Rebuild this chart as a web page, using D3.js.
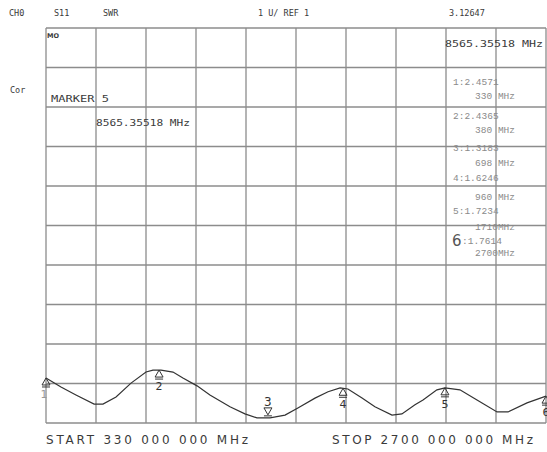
<!DOCTYPE html>
<html>
<head>
<meta charset="utf-8">
<script src="https://cdn.jsdelivr.net/npm/d3@7"></script>
<style>
  body { margin: 0; background: #fff; }
  svg { display: block; }
</style>
</head>
<body>
<svg id="chart"></svg>
<script>
// trace: frequency (MHz) and SWR
const freqs = [330, 401, 472, 558, 600, 662, 733, 804, 837, 875, 932, 979, 1046, 1107, 1202, 1273, 1330, 1392,
               1463, 1524, 1605, 1667, 1724, 1761, 1828, 1889, 1970, 2017, 2079, 2117, 2183, 2221, 2292, 2373,
               2468, 2520, 2610, 2700];
const swr = [2.14, 1.91, 1.71, 1.48, 1.48, 1.66, 2.01, 2.29, 2.34, 2.34, 2.29, 2.14, 1.94, 1.71, 1.41, 1.23, 1.13, 1.13,
             1.20, 1.38, 1.63, 1.79, 1.89, 1.86, 1.63, 1.41, 1.20, 1.23, 1.46, 1.58, 1.84, 1.89, 1.84, 1.58,
             1.28, 1.28, 1.51, 1.68];

// markers as they sit on the trace
const markerNums = ["1", "2", "3", "4", "5", "6"];
const markerFreqs = [330, 866, 1382, 1738, 2221, 2700];
const markerDown = [false, false, true, false, false, false];

// readout column on the right
const readoutValues = ["1:2.4571", "2:2.4365", "3:1.3183", "4:1.6246", "5:1.7234", "6:1.7614"];
const readoutFreqs = ["330 MHz", "380 MHz", "698 MHz", "960 MHz", "1710MHz", "2700MHz"];

const headerTexts = ["CH0", "S11", "SWR", "1 U/ REF 1", "3.12647"];
const startLabel = "START 330 000 000 MHz";
const stopLabel = "STOP 2700 000 000 MHz";
const markerTitle = "MARKER 5";
const markerFreqText = "8565.35518 MHz";

const W = 547, H = 452;
const svg = d3.select("#chart").attr("width", W).attr("height", H);

const gLeft = 46, gRight = 546, gTop = 28, gBottom = 423;
const x = d3.scaleLinear().domain([330, 2700]).range([gLeft, gRight]);
const y = d3.scaleLinear().domain([1, 11]).range([gBottom, gTop]);

const gridCol = "#8c8c8c";
const textCol = "#3a3a3a";

// grid
const xTicks = d3.range(11).map(i => 330 + i * 237);
const yTicks = y.ticks(10);
svg.append("g").selectAll("line").data(xTicks).join("line")
    .attr("x1", d => x(d)).attr("x2", d => x(d))
    .attr("y1", gTop).attr("y2", gBottom)
    .attr("stroke", gridCol).attr("stroke-width", 1.3);
svg.append("g").selectAll("line").data(yTicks).join("line")
    .attr("x1", gLeft).attr("x2", gRight)
    .attr("y1", d => y(d)).attr("y2", d => y(d))
    .attr("stroke", gridCol).attr("stroke-width", 1.3);

// header
const headerX = [9, 54, 103, 258, 449];
svg.append("g").selectAll("text").data(headerTexts).join("text")
    .attr("x", (d, i) => headerX[i]).attr("y", 16)
    .attr("font-family", "DejaVu Sans Mono").attr("font-size", 8.5)
    .attr("fill", textCol)
    .text(d => d);

svg.append("text").attr("x", 47).attr("y", 38)
    .attr("font-family", "DejaVu Sans").attr("font-size", 6.5).attr("font-weight", "bold")
    .attr("fill", textCol).text("MO");
svg.append("text").attr("x", 445).attr("y", 47)
    .attr("font-family", "DejaVu Sans Mono").attr("font-size", 8.5)
    .attr("textLength", 98).attr("lengthAdjust", "spacingAndGlyphs")
    .attr("fill", textCol).text(markerFreqText);

svg.append("text").attr("x", 10).attr("y", 93)
    .attr("font-family", "DejaVu Sans Mono").attr("font-size", 8.5)
    .attr("fill", textCol).text("Cor");
svg.append("text").attr("x", 51).attr("y", 102)
    .attr("font-family", "DejaVu Sans Mono").attr("font-size", 8.5)
    .attr("textLength", 58).attr("lengthAdjust", "spacingAndGlyphs")
    .attr("fill", textCol).text(markerTitle);
svg.append("text").attr("x", 96).attr("y", 126)
    .attr("font-family", "DejaVu Sans Mono").attr("font-size", 8.5)
    .attr("textLength", 94).attr("lengthAdjust", "spacingAndGlyphs")
    .attr("fill", textCol).text(markerFreqText);

// readouts
const valY = [85, 119, 151, 181, 214, 244];
const frqY = [99, 133, 166, 200, 230, 256];
const ro = svg.append("g").attr("font-family", "Liberation Mono").attr("font-size", 9.5).attr("fill", "#8a8a8a");
ro.selectAll("text.v").data(readoutValues.slice(0, 5)).join("text")
    .attr("class", "v").attr("x", 453).attr("y", (d, i) => valY[i]).text(d => d);
ro.selectAll("text.f").data(readoutFreqs).join("text")
    .attr("class", "f").attr("x", 515).attr("y", (d, i) => frqY[i])
    .attr("text-anchor", "end").text(d => d);
const last = readoutValues[5];
svg.append("text").attr("x", 452).attr("y", 246)
    .attr("font-family", "DejaVu Sans").attr("font-size", 15).attr("fill", "#555")
    .text(last.slice(0, 1));
ro.append("text").attr("x", 462).attr("y", 244).text(last.slice(1));

// trace
const pts = freqs.map((f, i) => [f, swr[i]]);
svg.append("path").datum(pts)
    .attr("d", d3.line().x(d => x(d[0])).y(d => y(d[1])))
    .attr("fill", "none").attr("stroke", "#333").attr("stroke-width", 1.2);

// markers
const valAt = f => {
    const i = d3.bisectLeft(freqs, f);
    if (i <= 0) return swr[0];
    if (i >= freqs.length) return swr[swr.length - 1];
    const t = (f - freqs[i - 1]) / (freqs[i] - freqs[i - 1]);
    return swr[i - 1] + t * (swr[i] - swr[i - 1]);
};
const mk = svg.append("g");
markerNums.forEach((n, i) => {
    const mx = x(markerFreqs[i]);
    const my = y(valAt(markerFreqs[i]));
    if (markerDown[i]) {
        mk.append("path")
            .attr("d", `M${mx - 4},${my - 10}L${mx + 4},${my - 10}L${mx},${my - 3}Z`)
            .attr("fill", "none").attr("stroke", "#333").attr("stroke-width", 1);
        mk.append("line").attr("x1", mx - 4).attr("x2", mx + 4)
            .attr("y1", my - 2).attr("y2", my - 2).attr("stroke", "#333");
        mk.append("text").attr("x", mx).attr("y", my - 12).attr("text-anchor", "middle")
            .attr("font-family", "DejaVu Sans").attr("font-size", 12).attr("fill", "#333").text(n);
    } else {
        mk.append("path")
            .attr("d", `M${mx},${my}L${mx + 4},${my + 7}L${mx - 4},${my + 7}Z`)
            .attr("fill", "none").attr("stroke", "#333").attr("stroke-width", 1);
        mk.append("line").attr("x1", mx - 4).attr("x2", mx + 4)
            .attr("y1", my + 9).attr("y2", my + 9).attr("stroke", "#333");
        mk.append("text").attr("x", i === 0 ? mx - 2 : mx).attr("y", my + 20).attr("text-anchor", "middle")
            .attr("font-family", "DejaVu Sans").attr("font-size", 11)
            .attr("fill", i === 0 ? "#999" : "#333").text(n);
    }
});

// start / stop
svg.append("text").attr("x", 46).attr("y", 444)
    .attr("font-family", "DejaVu Sans").attr("font-size", 12)
    .attr("textLength", 202).attr("lengthAdjust", "spacing")
    .attr("fill", textCol).text(startLabel);
svg.append("text").attr("x", 332).attr("y", 444)
    .attr("font-family", "DejaVu Sans").attr("font-size", 12)
    .attr("textLength", 201).attr("lengthAdjust", "spacing")
    .attr("fill", textCol).text(stopLabel);
</script>
</body>
</html>
